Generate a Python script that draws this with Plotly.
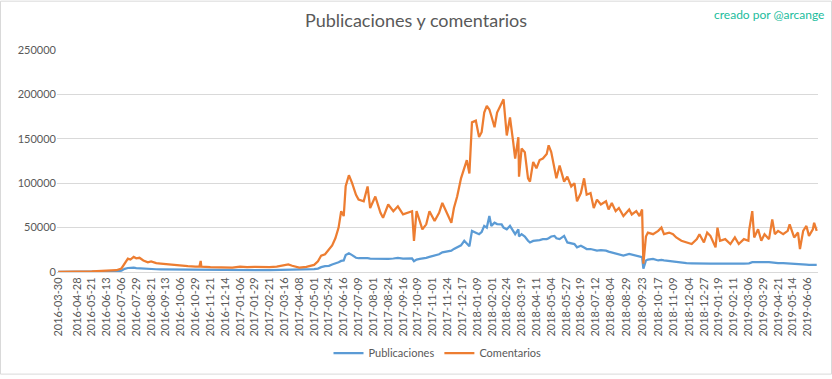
import plotly.graph_objects as go

dates = [
    "2016-03-30", "2016-04-28", "2016-05-21", "2016-06-13", "2016-06-28", "2016-07-06", "2016-07-11",
    "2016-07-16", "2016-07-20", "2016-07-25", "2016-07-29", "2016-08-03", "2016-08-09", "2016-08-16",
    "2016-08-21", "2016-08-29", "2016-09-05", "2016-09-13", "2016-09-24", "2016-10-06", "2016-10-17",
    "2016-10-29", "2016-11-04", "2016-11-06", "2016-11-07", "2016-11-21", "2016-12-02", "2016-12-14",
    "2016-12-25", "2017-01-06", "2017-01-17", "2017-01-29", "2017-02-09", "2017-02-21", "2017-03-04",
    "2017-03-16", "2017-03-22", "2017-03-28", "2017-04-08", "2017-04-19", "2017-04-27", "2017-05-01",
    "2017-05-07", "2017-05-12", "2017-05-18", "2017-05-24", "2017-05-29", "2017-06-03", "2017-06-08",
    "2017-06-12", "2017-06-16", "2017-06-19", "2017-06-24", "2017-06-29", "2017-07-02", "2017-07-05",
    "2017-07-09", "2017-07-17", "2017-07-23", "2017-07-27", "2017-08-04", "2017-08-12", "2017-08-16",
    "2017-08-24", "2017-09-01", "2017-09-08", "2017-09-16", "2017-09-24", "2017-09-30", "2017-10-03",
    "2017-10-07", "2017-10-12", "2017-10-16", "2017-10-22", "2017-10-27", "2017-11-04", "2017-11-11",
    "2017-11-16", "2017-11-24", "2017-11-30", "2017-12-04", "2017-12-09", "2017-12-15", "2017-12-20",
    "2017-12-24", "2017-12-28", "2018-01-01", "2018-01-07", "2018-01-12", "2018-01-16", "2018-01-20",
    "2018-01-24", "2018-01-28", "2018-01-31", "2018-02-05", "2018-02-09", "2018-02-16", "2018-02-19",
    "2018-02-24", "2018-03-01", "2018-03-06", "2018-03-09", "2018-03-14", "2018-03-15", "2018-03-19",
    "2018-03-24", "2018-03-29", "2018-04-01", "2018-04-06", "2018-04-11", "2018-04-16", "2018-04-21",
    "2018-04-27", "2018-04-30", "2018-05-04", "2018-05-09", "2018-05-12", "2018-05-17", "2018-05-24",
    "2018-05-29", "2018-06-04", "2018-06-09", "2018-06-13", "2018-06-19", "2018-06-24", "2018-06-28",
    "2018-07-04", "2018-07-09", "2018-07-14", "2018-07-20", "2018-07-28", "2018-08-01", "2018-08-06",
    "2018-08-12", "2018-08-17", "2018-08-24", "2018-09-02", "2018-09-06", "2018-09-13", "2018-09-18",
    "2018-09-22", "2018-09-24", "2018-09-26", "2018-09-28", "2018-10-01", "2018-10-09", "2018-10-17",
    "2018-10-22", "2018-10-26", "2018-11-03", "2018-11-09", "2018-11-14", "2018-11-22", "2018-11-30",
    "2018-12-08", "2018-12-16", "2018-12-20", "2018-12-27", "2019-01-01", "2019-01-06", "2019-01-14",
    "2019-01-17", "2019-01-21", "2019-01-29", "2019-02-06", "2019-02-13", "2019-02-19", "2019-02-27",
    "2019-03-06", "2019-03-07", "2019-03-12", "2019-03-15", "2019-03-21", "2019-03-26", "2019-03-31",
    "2019-04-07", "2019-04-12", "2019-04-16", "2019-04-21", "2019-04-29", "2019-05-06", "2019-05-09",
    "2019-05-16", "2019-05-22", "2019-05-25", "2019-05-30", "2019-06-04", "2019-06-08", "2019-06-14",
    "2019-06-16", "2019-06-20",
]

comentarios = [
    200, 300, 800, 1500, 2000, 4000, 10000,
    15000, 14000, 17000, 15500, 16000, 13000, 11000,
    12000, 10000, 9500, 8800, 8000, 7000, 6500,
    6000, 6200, 12500, 6000, 5500, 5300, 5600,
    5000, 6000, 5500, 5800, 5400, 5600, 6000,
    7800, 8500, 7000, 5000, 5800, 7000, 8000,
    12000, 18500, 20000, 25000, 30000, 38000, 50000,
    68500, 63000, 96500, 109000, 100000, 92500, 87000,
    81500, 79600, 96300, 72000, 85000, 66700, 61000,
    76000, 68500, 74000, 65000, 66700, 68500, 35000,
    68500, 57400, 48000, 53700, 68500, 57400, 66700,
    77800, 65000, 55500, 72000, 85000, 105500, 116700,
    126000, 111000, 168500, 170400, 152000, 157400, 179600,
    187000, 183000, 176000, 163000, 179600, 190700, 194400,
    153700, 174000, 146300, 127800, 151800, 107400, 139000,
    135000, 105500, 101800, 124000, 116700, 126000, 127800,
    133000, 142600, 135000, 116700, 105500, 120000, 101800,
    107400, 96300, 100000, 79600, 88900, 105500, 87000,
    88900, 72000, 81500, 76000, 79600, 70400, 77800,
    68500, 72000, 63000, 70400, 64800, 68500, 63000,
    70400, 9300, 27800, 40000, 44400, 42600, 46300,
    50000, 42600, 44400, 42600, 38900, 35200, 33300,
    31500, 37000, 42600, 33300, 44400, 40700, 27800,
    50000, 35200, 37000, 31500, 38900, 31500, 37000,
    35200, 46300, 68500, 38900, 48100, 35200, 42600,
    37000, 59300, 42600, 46300, 42600, 46300, 53700,
    38900, 44400, 25900, 46300, 51900, 40700, 48100,
    55500, 46300,
]

publicaciones = [
    100, 150, 300, 500, 700, 1500, 3500,
    4500, 5000, 4800, 4300, 4000, 3700, 3400,
    3300, 3100, 3000, 2900, 2800, 2700, 2600,
    2500, 2500, 2500, 2400, 2300, 2200, 2100,
    2000, 2000, 2000, 2100, 2000, 2100, 2200,
    2400, 2500, 2300, 2200, 2400, 2800, 3200,
    3800, 5500, 6500, 7000, 8500, 9500, 11000,
    12500, 13000, 19000, 21000, 19000, 17500, 16000,
    15500, 15900, 15500, 15000, 14800, 15000, 14500,
    14800, 15200, 15900, 15000, 14800, 15200, 12200,
    14000, 14800, 15000, 16000, 17000, 18500, 20000,
    22200, 23000, 24100, 26000, 27800, 30000, 35200,
    31500, 29000, 46300, 44400, 42600, 45000, 51900,
    50000, 63000, 51900, 55500, 54000, 53700, 50000,
    48100, 51900, 46300, 42600, 48000, 40000, 42600,
    40000, 35200, 33300, 35000, 35200, 36000, 37000,
    37000, 38000, 40000, 40700, 38000, 37000, 40700,
    33300, 32000, 31500, 27800, 29600, 27500, 25900,
    25900, 25000, 24100, 24500, 24100, 23000, 22200,
    21000, 20400, 18500, 20400, 19500, 18500, 17500,
    16700, 3700, 8000, 13000, 14000, 14800, 13000,
    13500, 13000, 12200, 12000, 11500, 10500, 10000,
    9800, 9500, 9800, 9500, 9300, 9300, 9300,
    9500, 9300, 9300, 9000, 9300, 9300, 9300,
    9300, 9800, 11100, 11000, 11100, 11100, 11000,
    11100, 10500, 10000, 10000, 10000, 9500, 9300,
    9000, 9000, 8800, 8500, 8300, 8100, 8000,
    8200, 8100,
]

tick_labels = [
    "2016-03-30", "2016-04-28", "2016-05-21", "2016-06-13", "2016-07-06", "2016-07-29",
    "2016-08-21", "2016-09-13", "2016-10-06", "2016-10-29", "2016-11-21", "2016-12-14",
    "2017-01-06", "2017-01-29", "2017-02-21", "2017-03-16", "2017-04-08", "2017-05-01",
    "2017-05-24", "2017-06-16", "2017-07-09", "2017-08-01", "2017-08-24", "2017-09-16",
    "2017-10-09", "2017-11-01", "2017-11-24", "2017-12-17", "2018-01-09", "2018-02-01",
    "2018-02-24", "2018-03-19", "2018-04-11", "2018-05-04", "2018-05-27", "2018-06-19",
    "2018-07-12", "2018-08-04", "2018-08-29", "2018-09-23", "2018-10-17", "2018-11-09",
    "2018-12-04", "2018-12-27", "2019-01-19", "2019-02-11", "2019-03-06", "2019-03-29",
    "2019-04-21", "2019-05-14", "2019-06-06",
]

y_ticks = [0, 50000, 100000, 150000, 200000, 250000]

BLUE = "#5B9BD5"
ORANGE = "#ED7D31"
TXT = "#595959"
GRID = "#D9D9D9"
FONT = "Lato, Open Sans, sans-serif"

fig = go.Figure()
fig.add_trace(go.Scatter(x=dates, y=publicaciones, mode="lines", name="Publicaciones",
                         line=dict(color=BLUE, width=2.25)))
fig.add_trace(go.Scatter(x=dates, y=comentarios, mode="lines", name="Comentarios",
                         line=dict(color=ORANGE, width=2.25)))

fig.update_layout(
    width=832, height=379,
    margin=dict(l=57, r=14, t=50, b=104),
    paper_bgcolor="white", plot_bgcolor="white",
    font=dict(family=FONT, color=TXT, size=11),
    title=dict(text="Publicaciones y comentarios", x=0.5, xanchor="center",
               y=0.945, yanchor="middle",
               font=dict(family=FONT, size=18, color=TXT)),
    legend=dict(orientation="h", x=0.5, xanchor="center", y=-0.365, yanchor="middle",
                font=dict(size=11, color=TXT), itemwidth=30),
    showlegend=True,
    annotations=[dict(text="creado por @arcange", xref="paper", yref="paper",
                      x=1.01, y=1.16, xanchor="right", yanchor="middle", showarrow=False,
                      font=dict(family=FONT, size=12, color="#1ABC9C"))],
    shapes=[dict(type="rect", xref="paper", yref="paper",
                 x0=-56.5/761, x1=1 + 13.5/761, y0=-103.5/225, y1=1 + 49.5/225,
                 line=dict(color=GRID, width=1))],
)

fig.update_xaxes(
    type="date",
    range=["2016-03-28", "2019-06-22"],
    tickmode="array", tickvals=tick_labels, ticktext=tick_labels,
    tickangle=-90, tickfont=dict(size=11, color=TXT),
    showgrid=False, showline=True, linecolor=GRID, linewidth=1,
    ticks="", zeroline=False,
)
fig.update_yaxes(
    range=[0, 250000], tickvals=y_ticks, ticktext=[str(v) for v in y_ticks],
    showgrid=True, gridcolor=GRID, gridwidth=1, zeroline=False,
    showline=False, ticks="", tickfont=dict(size=11, color=TXT),
)

fig.write_html("out.html", config={"displayModeBar": False},
               post_script="document.body.style.margin='0';")
